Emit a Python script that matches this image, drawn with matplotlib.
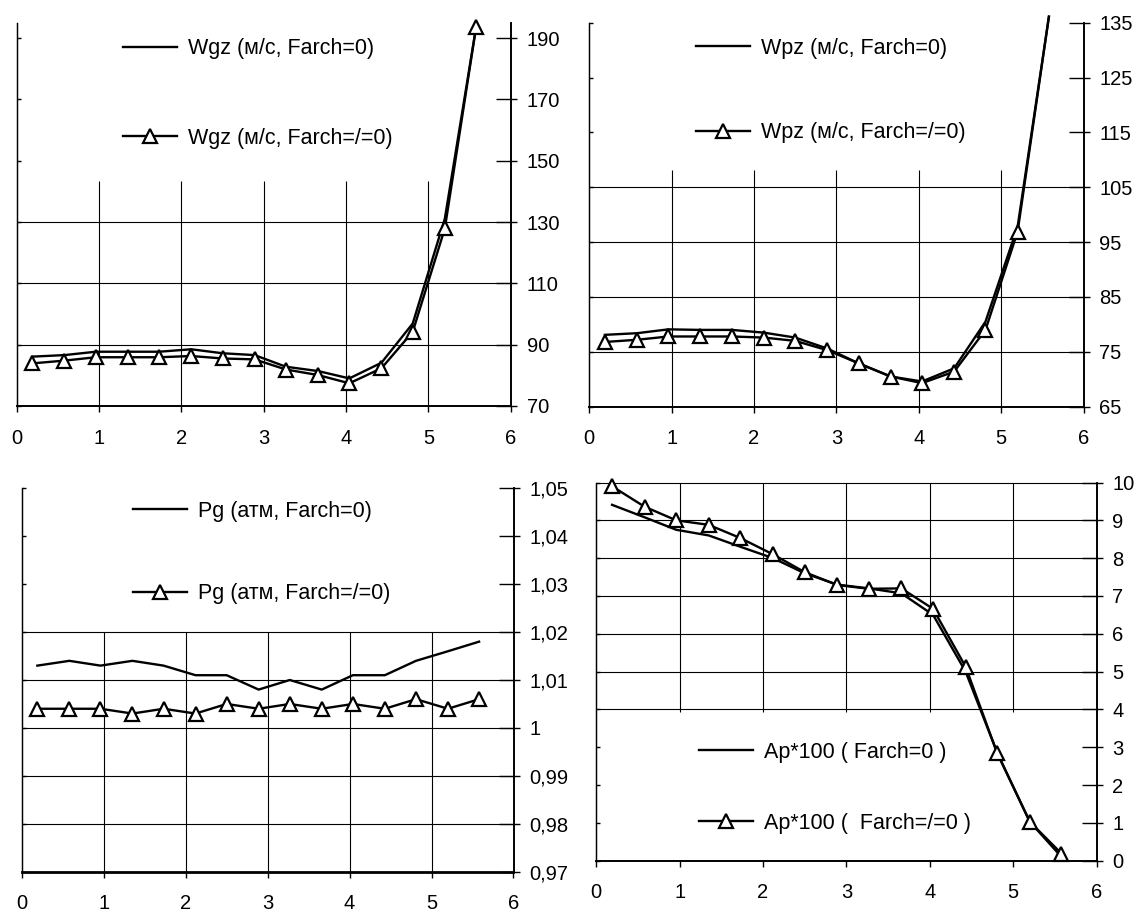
import matplotlib
matplotlib.use('Agg')
import matplotlib.pyplot as plt
from matplotlib.ticker import FuncFormatter

plt.rcParams['font.family'] = ['Liberation Sans', 'DejaVu Sans']

W, H = 1139, 914

# data
x = [0.19, 0.58, 0.96, 1.35, 1.73, 2.12, 2.5, 2.89, 3.27, 3.66, 4.04, 4.43, 4.81, 5.2, 5.58]

wgz_f0 = [86.1, 86.6, 87.7, 87.7, 87.7, 88.5, 87.2, 86.6, 82.8, 81.4, 79.0, 84.1, 96.9, 131.1, 193.6]
wgz_f1 = [83.9, 84.8, 85.9, 85.9, 85.9, 86.3, 85.5, 85.2, 81.9, 80.1, 77.4, 82.3, 94.2, 127.9, 193.6]

wpz_f0 = [78.1, 78.4, 79.1, 79.0, 79.0, 78.5, 77.6, 75.6, 72.9, 70.5, 69.6, 72.0, 80.5, 97.8, 136.1]
wpz_f1 = [76.8, 77.2, 77.8, 77.8, 77.8, 77.6, 77.0, 75.3, 72.9, 70.5, 69.3, 71.4, 79.0, 96.9, 136.1]

pg_f0 = [1.013, 1.014, 1.013, 1.014, 1.013, 1.011, 1.011, 1.008, 1.010, 1.008, 1.011, 1.011, 1.014, 1.016, 1.018]
pg_f1 = [1.004, 1.004, 1.004, 1.003, 1.004, 1.003, 1.005, 1.004, 1.005, 1.004, 1.005, 1.004, 1.006, 1.004, 1.006]

ap_f0 = [9.41, 9.08, 8.75, 8.6, 8.3, 8.0, 7.6, 7.3, 7.2, 7.07, 6.5, 5.0, 2.85, 1.03, 0.1]
ap_f1 = [9.9, 9.36, 9.0, 8.88, 8.53, 8.1, 7.63, 7.29, 7.19, 7.2, 6.66, 5.13, 2.84, 1.03, 0.19]

labels_wgz = ['Wgz (м/с, Farch=0)', 'Wgz (м/с, Farch=/=0)']
labels_wpz = ['Wpz (м/с, Farch=0)', 'Wpz (м/с, Farch=/=0)']
labels_pg = ['Pg (атм, Farch=0)', 'Pg (атм, Farch=/=0)']
labels_ap = ['Ap*100 ( Farch=0 )', 'Ap*100 (  Farch=/=0 )']

fig = plt.figure(figsize=(W / 100, H / 100), dpi=100)


def comma(v, pos):
    return ('%g' % round(v, 4)).replace('.', ',')


def panel(box, y0, y1, ylim, yticks, labels, hgrid, vspan, leg_xy, spacing, bottom_lw=1.4):
    l, t, r, b = box
    ax = fig.add_axes([l / W, 1 - b / H, (r - l) / W, (b - t) / H])
    ax.set_xlim(0, 6)
    ax.set_ylim(*ylim)

    for yv in hgrid:
        ax.axhline(yv, color='black', lw=0.8, zorder=1)
    ax.vlines([1, 2, 3, 4, 5], vspan[0], vspan[1], color='black', lw=0.8, zorder=1)

    # excel draws no markers outside the plot area, but lets lines run a bit past it
    vis = [i for i, v in enumerate(y1) if v <= ylim[1]]
    ax.plot(x, y0, color='black', lw=1.7, label=labels[0], zorder=3, clip_on=False)
    ax.plot(x, y1, color='black', lw=1.7, marker='^', ms=9.5, mfc='white',
            mec='black', mew=1.6, markevery=vis, label=labels[1], zorder=4, clip_on=False)

    ax.spines['top'].set_visible(False)
    ax.spines['left'].set_linewidth(0.9)
    ax.spines['right'].set_linewidth(1.2)
    ax.spines['bottom'].set_linewidth(bottom_lw)

    ax.set_xticks(range(7))
    ax.tick_params(axis='x', direction='out', length=4.3, width=1, labelsize=14.5, pad=12)
    ax.set_yticks(yticks)
    # outward stubs on the right spine
    ax.tick_params(axis='y', left=False, right=True, labelleft=False, labelright=False,
                   direction='out', length=4.5, width=1)

    sec = ax.secondary_yaxis('right')
    sec.set_yticks(yticks)
    sec.yaxis.set_major_formatter(FuncFormatter(comma))
    sec.tick_params(direction='in', length=11, width=1, labelsize=14.5, pad=11.5)
    sec.spines['right'].set_linewidth(1.2)

    lft = ax.secondary_yaxis('left')
    lft.set_yticks(yticks)
    lft.tick_params(direction='in', length=3, width=1, labelleft=False)
    lft.spines['left'].set_linewidth(0.9)

    ax.legend(loc='upper left', bbox_to_anchor=(leg_xy[0] / W, 1 - leg_xy[1] / H),
              bbox_transform=fig.transFigure, frameon=False, fontsize=15.5,
              borderpad=0, borderaxespad=0, handlelength=2.51, handletextpad=0.54,
              labelspacing=spacing)
    return ax


panel((16.7, 22.7, 510.7, 406), wgz_f0, wgz_f1, (70, 195), range(70, 191, 20),
      labels_wgz, [90, 110, 130], (70, 143.5), (122.7, 38.3), 3.19)

panel((589.3, 22.7, 1083.5, 406.7), wpz_f0, wpz_f1, (65, 135), range(65, 136, 10),
      labels_wpz, [75, 85, 95, 105], (65, 108.1), (695.5, 37.6), 2.96)

panel((21.8, 488.3, 513.5, 871.7), pg_f0, pg_f1, (0.97, 1.05),
      [0.97 + 0.01 * i for i in range(9)], labels_pg,
      [0.98, 0.99, 1.0, 1.01, 1.02], (0.97, 1.02), (132.7, 500.9), 2.85, bottom_lw=2.0)

panel((596.2, 482.5, 1096.5, 860.7), ap_f0, ap_f1, (0, 10), range(0, 11),
      labels_ap, [4, 5, 6, 7, 8, 9, 10], (3.94, 10), (698.5, 741.6), 2.34)

fig.savefig('out.png', dpi=100)
